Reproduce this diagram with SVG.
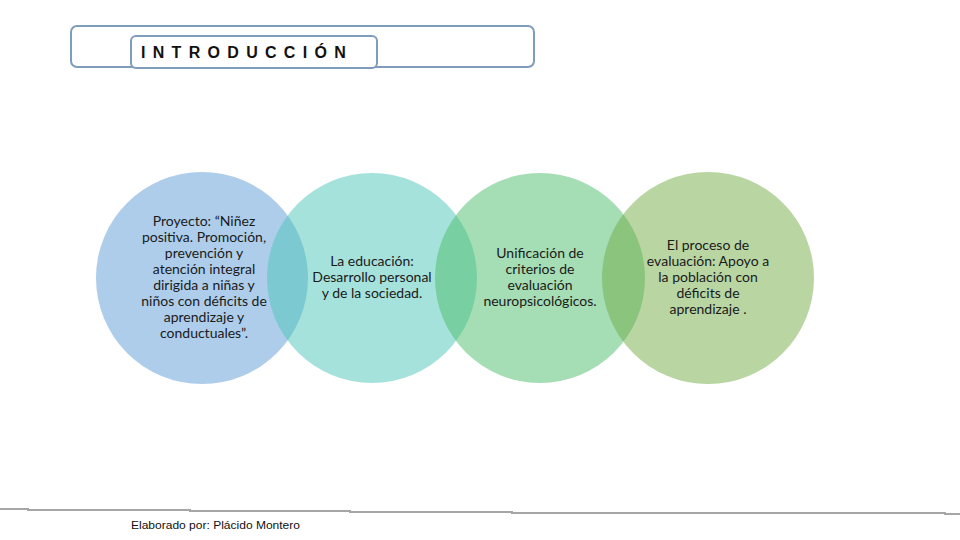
<svg xmlns="http://www.w3.org/2000/svg" width="960" height="540" viewBox="0 0 960 540">
<style>
.c{fill-opacity:0.5;stroke:none}
.t{font-family:Lato,"Open Sans","Liberation Sans",sans-serif;font-size:14px;fill:#1a1a1a;text-anchor:middle}
.box{fill:#fff;stroke:#7f9cbc;stroke-width:2}
</style>
<rect width="960" height="540" fill="#fff"/>
<g id="title">
<rect class="box" x="71" y="26" width="463" height="41" rx="6"/>
<rect class="box" x="131" y="36" width="246" height="32" rx="5"/>
<text x="141" y="58" font-family="Liberation Sans,Arial,sans-serif" font-weight="bold" font-size="16" letter-spacing="7.3" fill="#111">INTRODUCCIÓN</text>
</g>
<g id="n1">
<circle class="c" cx="202" cy="278" r="106" fill="#5b9bd5"/>
<text class="t" x="204" y="226">Proyecto: “Niñez</text>
<text class="t" x="204" y="242">positiva. Promoción,</text>
<text class="t" x="204" y="258">prevención y</text>
<text class="t" x="204" y="274">atención integral</text>
<text class="t" x="204" y="290">dirigida a niñas y</text>
<text class="t" x="204" y="306">niños con déficits de</text>
<text class="t" x="204" y="322">aprendizaje y</text>
<text class="t" x="204" y="338">conductuales”.</text>
</g>
<g id="n2">
<circle class="c" cx="372" cy="278" r="105" fill="#4bc5b8"/>
<text class="t" x="372" y="266">La educación:</text>
<text class="t" x="372" y="282">Desarrollo personal</text>
<text class="t" x="372" y="298">y de la sociedad.</text>
</g>
<g id="n3">
<circle class="c" cx="540" cy="278" r="105" fill="#4cbb6a"/>
<text class="t" x="540" y="258">Unificación de</text>
<text class="t" x="540" y="274">criterios de</text>
<text class="t" x="540" y="290">evaluación</text>
<text class="t" x="540" y="306">neuropsicológicos.</text>
</g>
<g id="n4">
<circle class="c" cx="708" cy="278" r="106" fill="#72ab45"/>
<text class="t" x="708" y="250">El proceso de</text>
<text class="t" x="708" y="266">evaluación: Apoyo a</text>
<text class="t" x="708" y="282">la población con</text>
<text class="t" x="708" y="298">déficits de</text>
<text class="t" x="708" y="314">aprendizaje .</text>
</g>
<g id="connectors"></g>
<g id="footer">
<polyline points="0,509 28,509 28,510 190,510 190,511 350,511 350,512 512,512 512,513 945,513 945,514 960,514" fill="none" stroke="#a6a6a6" stroke-width="2"/>
<text x="131" y="529" font-family="Liberation Sans,Arial,sans-serif" font-size="11" fill="#111" textLength="169" lengthAdjust="spacingAndGlyphs">Elaborado por: Plácido Montero</text>
</g>
</svg>
